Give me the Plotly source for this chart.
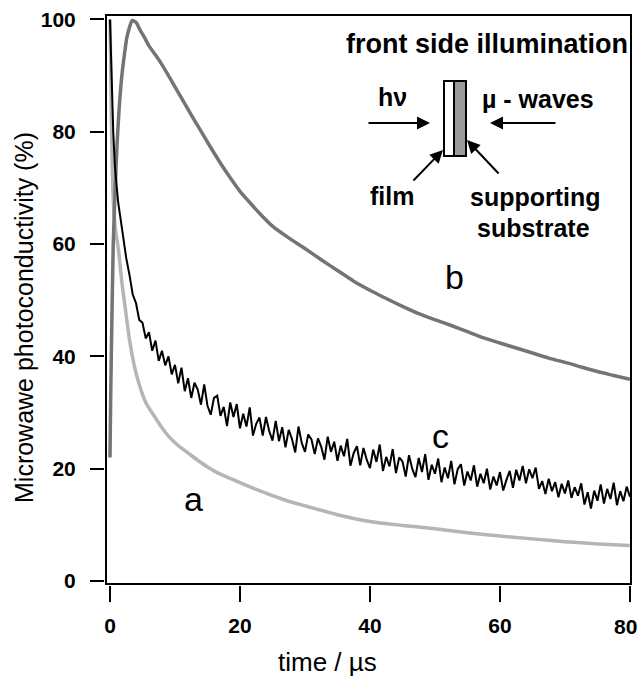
import plotly.graph_objects as go

# ---------------- data ----------------
t_a = [0, 0.1, 0.25, 0.5, 0.8, 1.3, 1.8, 2.3, 3.0, 3.8, 4.5, 5.5, 6.9, 8.0, 9.0, 10.5, 12, 13.5, 15, 16.5, 18, 20, 22.5, 25, 27.5, 30, 35, 40, 45, 50, 55, 60, 65, 70, 75, 80]
v_a = [100, 92, 80, 68, 63, 59, 53.5, 49, 43, 38, 35, 31.8, 29.2, 27.3, 25.8, 24.1, 22.8, 21.5, 20.3, 19.3, 18.5, 17.5, 16.3, 15.2, 14.2, 13.4, 11.8, 10.6, 9.9, 9.3, 8.6, 8.0, 7.5, 7.0, 6.6, 6.3]

t_b = [0, 0.1, 0.2, 0.5, 0.8, 1.1, 1.4, 1.8, 2.2, 2.6, 3.0, 3.4, 4.0, 4.6, 5.3, 6.0, 6.8, 7.7, 8.8, 10, 11.3, 12.5, 14, 15.5, 17, 18.5, 20, 21.2, 23, 25, 27.5, 30, 32.5, 35, 37.5, 40.3, 42.5, 45, 47.5, 50.3, 52.5, 55, 57.5, 60.5, 62.5, 65, 67.5, 70.8, 72.5, 75, 77.5, 80]
v_b = [22, 32, 40, 60, 70, 78, 84, 89.7, 93.6, 96.8, 98.6, 99.8, 99.5, 98.2, 96.8, 95.3, 94.0, 92.5, 90.4, 88.0, 85.4, 83.0, 80.1, 77.2, 74.4, 71.8, 69.4, 67.8, 65.5, 63.2, 61.1, 59.2, 57.2, 55.3, 53.4, 51.6, 50.3, 48.9, 47.6, 46.4, 45.5, 44.4, 43.3, 42.2, 41.5, 40.6, 39.7, 38.7, 38.1, 37.3, 36.6, 35.9]

t_c = [0, 0.25, 0.5, 0.75, 1.0, 1.25, 1.5, 2.0, 2.5, 3.0, 3.5, 4.0, 4.5, 5.0, 5.5, 6.0, 6.5, 7.0, 7.5, 8.0, 8.5, 9.0, 9.5,
       10.0, 10.5, 11.0, 11.5, 12.0, 12.5, 13.0, 13.5, 14.0, 14.5, 15.0, 15.5, 16.0, 16.5, 17.0, 17.5, 18.0, 18.5, 19.0, 19.5,
       20.0, 20.5, 21.0, 21.5, 22.0, 22.5, 23.0, 23.5, 24.0, 24.5, 25.0, 25.5, 26.0, 26.5, 27.0, 27.5, 28.0, 28.5, 29.0, 29.5,
       30.0, 30.5, 31.0, 31.5, 32.0, 32.5, 33.0, 33.5, 34.0, 34.5, 35.0, 35.5, 36.0, 36.5, 37.0, 37.5, 38.0, 38.5, 39.0, 39.5,
       40.0, 40.5, 41.0, 41.5, 42.0, 42.5, 43.0, 43.5, 44.0, 44.5, 45.0, 45.5, 46.0, 46.5, 47.0, 47.5, 48.0, 48.5, 49.0, 49.5,
       50.0, 50.5, 51.0, 51.5, 52.0, 52.5, 53.0, 53.5, 54.0, 54.5, 55.0, 55.5, 56.0, 56.5, 57.0, 57.5, 58.0, 58.5, 59.0, 59.5,
       60.0, 60.5, 61.0, 61.5, 62.0, 62.5, 63.0, 63.5, 64.0, 64.5, 65.0, 65.5, 66.0, 66.5, 67.0, 67.5, 68.0, 68.5, 69.0, 69.5,
       70.0, 70.5, 71.0, 71.5, 72.0, 72.5, 73.0, 73.5, 74.0, 74.5, 75.0, 75.5, 76.0, 76.5, 77.0, 77.5, 78.0, 78.5, 79.0, 79.5, 80.0]
v_c = [100, 88, 80, 74, 70, 67.5, 65.5, 61.5, 57.5, 54.5, 51.0, 49.5, 46.5, 46.0, 43.2, 44.3, 41.0, 42.8, 39.2, 41.0, 38.4, 40.0, 36.8,
       38.5, 35.2, 38.0, 33.8, 36.1, 32.6, 35.3, 34.1, 31.4, 35.0, 31.2, 29.6, 32.6, 33.0, 29.4, 31.0, 27.6, 31.8, 29.2, 31.5,
       27.2, 29.8, 27.5, 30.9, 25.9, 28.0, 29.1, 25.9, 29.2, 26.7, 25.0, 28.5, 24.9, 27.4, 23.8, 26.9, 25.3, 22.9, 27.5, 24.6,
       23.0, 26.1, 25.2, 22.6, 25.4, 23.9, 21.6, 25.7, 23.0, 24.8, 21.4, 24.1, 22.2, 25.3, 20.5, 22.8, 24.0, 20.6, 23.7, 21.6,
       20.1, 23.4, 21.2, 24.3, 19.6, 22.1, 20.4, 23.5, 19.2, 22.0, 21.3, 18.6, 22.4, 20.0, 18.5, 21.9, 19.4, 22.6, 18.0, 20.7,
       19.1, 21.8, 17.6, 20.2, 18.3, 21.4, 17.2, 19.9, 20.8, 17.0, 19.5, 17.9, 20.6, 16.8, 19.1, 17.4, 20.0, 16.3, 18.6, 17.0,
       19.4, 16.1, 18.0, 19.6, 16.6, 19.8, 17.9, 20.5, 17.4, 19.9, 18.3, 20.2, 16.4, 17.8, 15.5, 18.2, 16.0, 17.6, 14.9, 17.3,
       15.6, 17.9, 14.8, 16.7, 15.2, 17.4, 13.6, 15.8, 12.9, 16.1, 14.3, 17.2, 13.8, 16.4, 14.6, 17.5, 13.5, 16.0, 14.2, 16.8, 15.0]

x_ticks = [0, 20, 40, 60, 80]
x_tick_text = ["0", "20", "40", "60", ""]   # last label drawn as an annotation so it stays inside the page
x_last_label = "80"
y_ticks = [0, 20, 40, 60, 80, 100]
curve_labels = ["a", "b", "c"]

# ---------------- layout geometry (pixels) ----------------
W, H = 640, 676
ML, MR, MT, MB = 104, 10, 16, 91
PW = W - ML - MR
PH = H - MT - MB
FRAME_L, FRAME_R, FRAME_T, FRAME_B = 107, 630, 16, 583


def px(x):
    return (x - ML) / PW


def py(y):
    return (H - MB - y) / PH


FONT = "Liberation Sans, Arial, Helvetica, sans-serif"
X_RANGE = [-0.46, 80.01]
Y_RANGE = [-0.36, 100.62]
TICKFONT = dict(family=FONT, size=21, color="black", weight="bold")

fig = go.Figure()
fig.add_trace(go.Scatter(x=t_a, y=v_a, mode="lines", line=dict(color="#b5b5b5", width=3.5, shape="spline", smoothing=0.6), name="a"))
fig.add_trace(go.Scatter(x=t_b, y=v_b, mode="lines", line=dict(color="#747474", width=3.5, shape="spline", smoothing=0.6), name="b"))
fig.add_trace(go.Scatter(x=t_c, y=v_c, mode="lines", line=dict(color="#000000", width=2), name="c"))

fig.update_layout(
    width=W, height=H, autosize=False,
    margin=dict(l=ML, r=MR, t=MT, b=MB, pad=0, autoexpand=False),
    paper_bgcolor="white", plot_bgcolor="white",
    showlegend=False,
    xaxis=dict(domain=[px(FRAME_L), 1], range=X_RANGE, anchor="free", position=0,
               showline=False, showgrid=False, zeroline=False, automargin=False,
               ticks="outside", ticklen=16, tickwidth=2, tickcolor="black",
               tickvals=x_ticks, ticktext=x_tick_text,
               ticklabelstandoff=6, ticklabeloverflow="allow",
               tickfont=TICKFONT),
    yaxis=dict(domain=[py(FRAME_B), 1], range=Y_RANGE, anchor="free", position=0,
               showline=False, showgrid=False, zeroline=False, automargin=False,
               ticks="outside", ticklen=14, tickwidth=2, tickcolor="black",
               tickvals=y_ticks, ticktext=[str(v) for v in y_ticks],
               ticklabelstandoff=10, ticklabeloverflow="allow",
               tickfont=TICKFONT),
    # overlay axes used only to draw the closed frame box
    xaxis2=dict(overlaying="x", matches="x", anchor="y2", showline=True, mirror=True,
                linecolor="black", linewidth=2, showgrid=False, zeroline=False, automargin=False,
                showticklabels=False, ticks=""),
    yaxis2=dict(overlaying="y", matches="y", anchor="x2", showline=True, mirror=True,
                linecolor="black", linewidth=2, showgrid=False, zeroline=False, automargin=False,
                showticklabels=False, ticks=""),
)

# invisible trace to activate the frame axes
fig.add_trace(go.Scatter(x=[t_b[0]], y=[v_b[0]], xaxis="x2", yaxis="y2", mode="markers",
                         marker=dict(opacity=0), hoverinfo="skip", showlegend=False))

ann = []
# last x tick label, kept inside the page edge
ann.append(dict(x=px(639), y=py(626), xref="paper", yref="paper", text=x_last_label, showarrow=False,
                font=TICKFONT, xanchor="right", yanchor="middle"))
# axis titles
ann.append(dict(x=px(24), y=py(318), xref="paper", yref="paper", text="Microwawe photoconductivity (%)",
                textangle=-90, showarrow=False, font=dict(family=FONT, size=25, color="black"),
                xanchor="center", yanchor="middle"))
ann.append(dict(x=px(327), y=py(662), xref="paper", yref="paper", text="time / µs",
                showarrow=False, font=dict(family=FONT, size=26, color="black"),
                xanchor="center", yanchor="middle"))
# curve labels
for lab, (lx, ly) in zip(curve_labels, [(193, 499), (454, 277), (440, 436)]):
    ann.append(dict(x=px(lx), y=py(ly), xref="paper", yref="paper", text=lab, showarrow=False,
                    font=dict(family=FONT, size=34, color="black"), xanchor="center", yanchor="middle"))


# inset text
def itext(s, x, y, size=25):
    ann.append(dict(x=px(x), y=py(y), xref="paper", yref="paper", text=s, showarrow=False,
                    font=dict(family=FONT, size=size, color="black", weight="bold"),
                    xanchor="center", yanchor="middle"))


itext("front side illumination", 487, 44, 27)
itext("hν", 392, 97)
itext("µ - waves", 538, 99)
itext("film", 392, 196)
itext("supporting", 535, 197)
itext("substrate", 533, 228)


# inset arrows
def arrow(hx, hy, tx, ty):
    ann.append(dict(x=px(hx), y=py(hy), xref="paper", yref="paper", text="", showarrow=True,
                    ax=tx - hx, ay=ty - hy, axref="pixel", ayref="pixel",
                    arrowhead=2, arrowsize=1.3, arrowwidth=2, arrowcolor="black"))


arrow(430, 123, 367, 123)
arrow(490, 123, 557, 123)
arrow(443, 150, 412, 182)
arrow(467, 140, 500, 175)

fig.update_layout(annotations=ann)

# inset sample sketch (film + substrate)
fig.add_shape(type="rect", xref="paper", yref="paper", x0=px(444), x1=px(454), y0=py(156), y1=py(81),
              line=dict(color="black", width=2), fillcolor="white")
fig.add_shape(type="rect", xref="paper", yref="paper", x0=px(454), x1=px(466), y0=py(156), y1=py(81),
              line=dict(color="black", width=2), fillcolor="#9a9a9a")

fig.write_html("out.html")
